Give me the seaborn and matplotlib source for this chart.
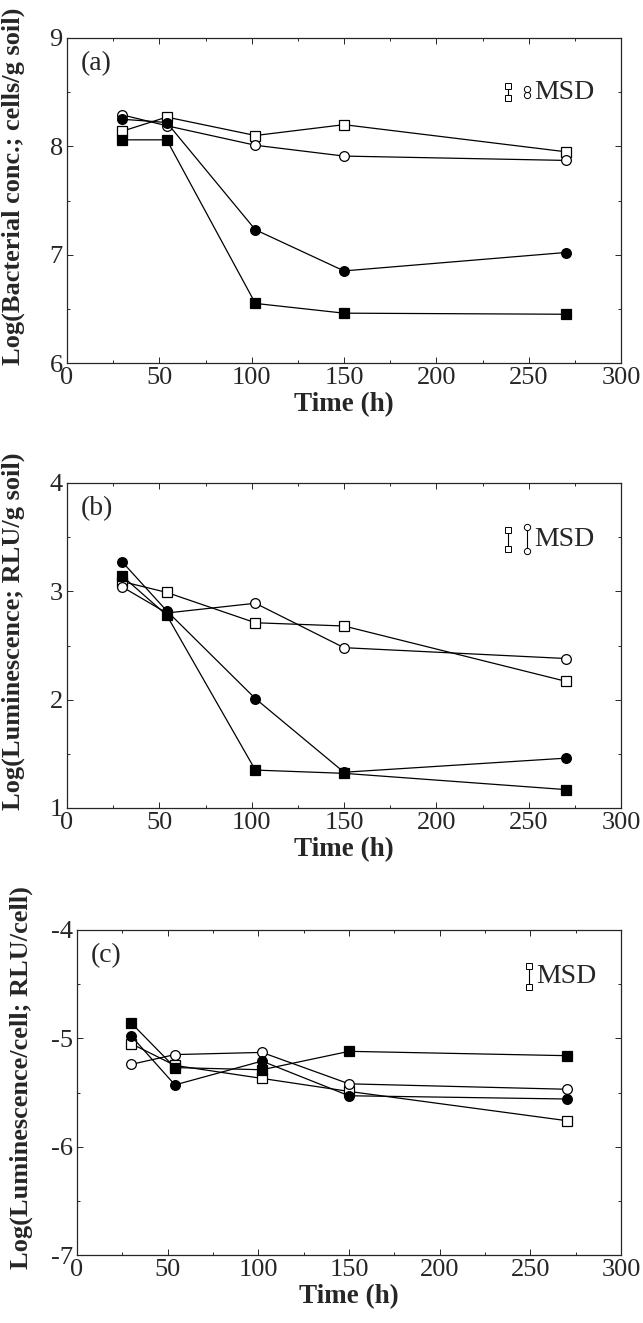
import numpy as np
import pandas as pd
import matplotlib
matplotlib.use("Agg")
import matplotlib.pyplot as plt
from matplotlib.ticker import MultipleLocator
import seaborn as sns

# sampling times (h)
time_h = [30, 54, 102, 150, 270]

# panel (a): log bacterial conc. (cells/g soil)
a_open_sq = [8.14, 8.27, 8.10, 8.20, 7.95]
a_open_ci = [8.29, 8.19, 8.01, 7.91, 7.87]
a_fill_ci = [8.25, 8.22, 7.23, 6.85, 7.02]
a_fill_sq = [8.06, 8.06, 6.55, 6.46, 6.45]

# panel (b): log luminescence (RLU/g soil)
b_open_sq = [3.09, 2.99, 2.71, 2.68, 2.17]
b_open_ci = [3.04, 2.80, 2.89, 2.48, 2.38]
b_fill_ci = [3.27, 2.82, 2.01, 1.33, 1.46]
b_fill_sq = [3.14, 2.78, 1.35, 1.32, 1.17]

# panel (c): log luminescence per cell (RLU/cell)
c_open_sq = [-5.05, -5.25, -5.37, -5.49, -5.76]
c_open_ci = [-5.24, -5.15, -5.13, -5.42, -5.47]
c_fill_ci = [-4.98, -5.43, -5.21, -5.53, -5.56]
c_fill_sq = [-4.86, -5.27, -5.29, -5.12, -5.16]

# minimum significant difference half-widths (square, circle)
msd_a = [0.055, 0.03]
msd_b = [0.09, 0.11]
msd_c = [0.095]

panels = [
    dict(tag="(a)", ylabel="Log(Bacterial conc.; cells/g soil)", ylim=(6, 9),
         series=[a_open_sq, a_open_ci, a_fill_ci, a_fill_sq], msd=msd_a,
         msd_y=8.5, rect=[67, 38, 621, 363]),
    dict(tag="(b)", ylabel="Log(Luminescence; RLU/g soil)", ylim=(1, 4),
         series=[b_open_sq, b_open_ci, b_fill_ci, b_fill_sq], msd=msd_b,
         msd_y=3.48, rect=[67, 483, 621, 808]),
    dict(tag="(c)", ylabel="Log(Luminescence/cell; RLU/cell)", ylim=(-7, -4),
         series=[c_open_sq, c_open_ci, c_fill_ci, c_fill_sq], msd=msd_c,
         msd_y=-4.43, rect=[77, 930, 621, 1255]),
]

styles = [
    dict(marker="s", mfc="white"),
    dict(marker="o", mfc="white"),
    dict(marker="o", mfc="black"),
    dict(marker="s", mfc="black"),
]

sns.set_style("ticks")
plt.rcParams["font.family"] = ["Liberation Serif", "DejaVu Serif"]
plt.rcParams["axes.unicode_minus"] = False

W, H = 643, 1323
fig = plt.figure(figsize=(W / 100, H / 100), dpi=100)

for p in panels:
    x0, y0, x1, y1 = p["rect"]
    ax = fig.add_axes([x0 / W, 1 - y1 / H, (x1 - x0) / W, (y1 - y0) / H])
    for vals, st in zip(p["series"], styles):
        df = pd.DataFrame({"t": time_h, "v": vals})
        sns.lineplot(data=df, x="t", y="v", ax=ax, color="black", lw=0.9,
                     marker=st["marker"], markersize=7, mfc=st["mfc"],
                     mec="black", mew=0.9, zorder=3)

    # MSD key
    if len(p["msd"]) == 2:
        xs = [239, 249]
        mk = ["s", "o"]
    else:
        xs = [249]
        mk = ["s"]
    for xm, half, m in zip(xs, p["msd"], mk):
        ax.plot([xm, xm], [p["msd_y"] - half, p["msd_y"] + half], color="black",
                lw=0.8, marker=m, markersize=4.5, mfc="white", mec="black", mew=0.7)
    ax.text(xs[-1] + 4, p["msd_y"], "MSD", fontsize=20, va="center", ha="left")

    ax.text(0.025, 0.92, p["tag"], transform=ax.transAxes, fontsize=20,
            va="center", ha="left")

    ax.set_xlim(0, 300)
    ax.set_ylim(*p["ylim"])
    ax.xaxis.set_major_locator(MultipleLocator(50))
    ax.xaxis.set_minor_locator(MultipleLocator(25))
    ax.yaxis.set_major_locator(MultipleLocator(1))
    ax.yaxis.set_minor_locator(MultipleLocator(0.5))
    ax.tick_params(which="both", direction="in", top=True, right=True,
                   labelsize=19, width=0.7)
    ax.tick_params(which="major", length=4, pad=3)
    ax.tick_params(which="minor", length=2.5)
    for s in ax.spines.values():
        s.set_linewidth(0.9)
    ax.set_xlabel("Time (h)", fontsize=19.5, fontweight="bold", labelpad=2)
    ax.set_ylabel(p["ylabel"], fontsize=19, fontweight="bold")
    ax.yaxis.set_label_coords(-0.075 if x0 < 70 else -0.08, 0.545)

fig.savefig("out.png", dpi=100, facecolor="white")
